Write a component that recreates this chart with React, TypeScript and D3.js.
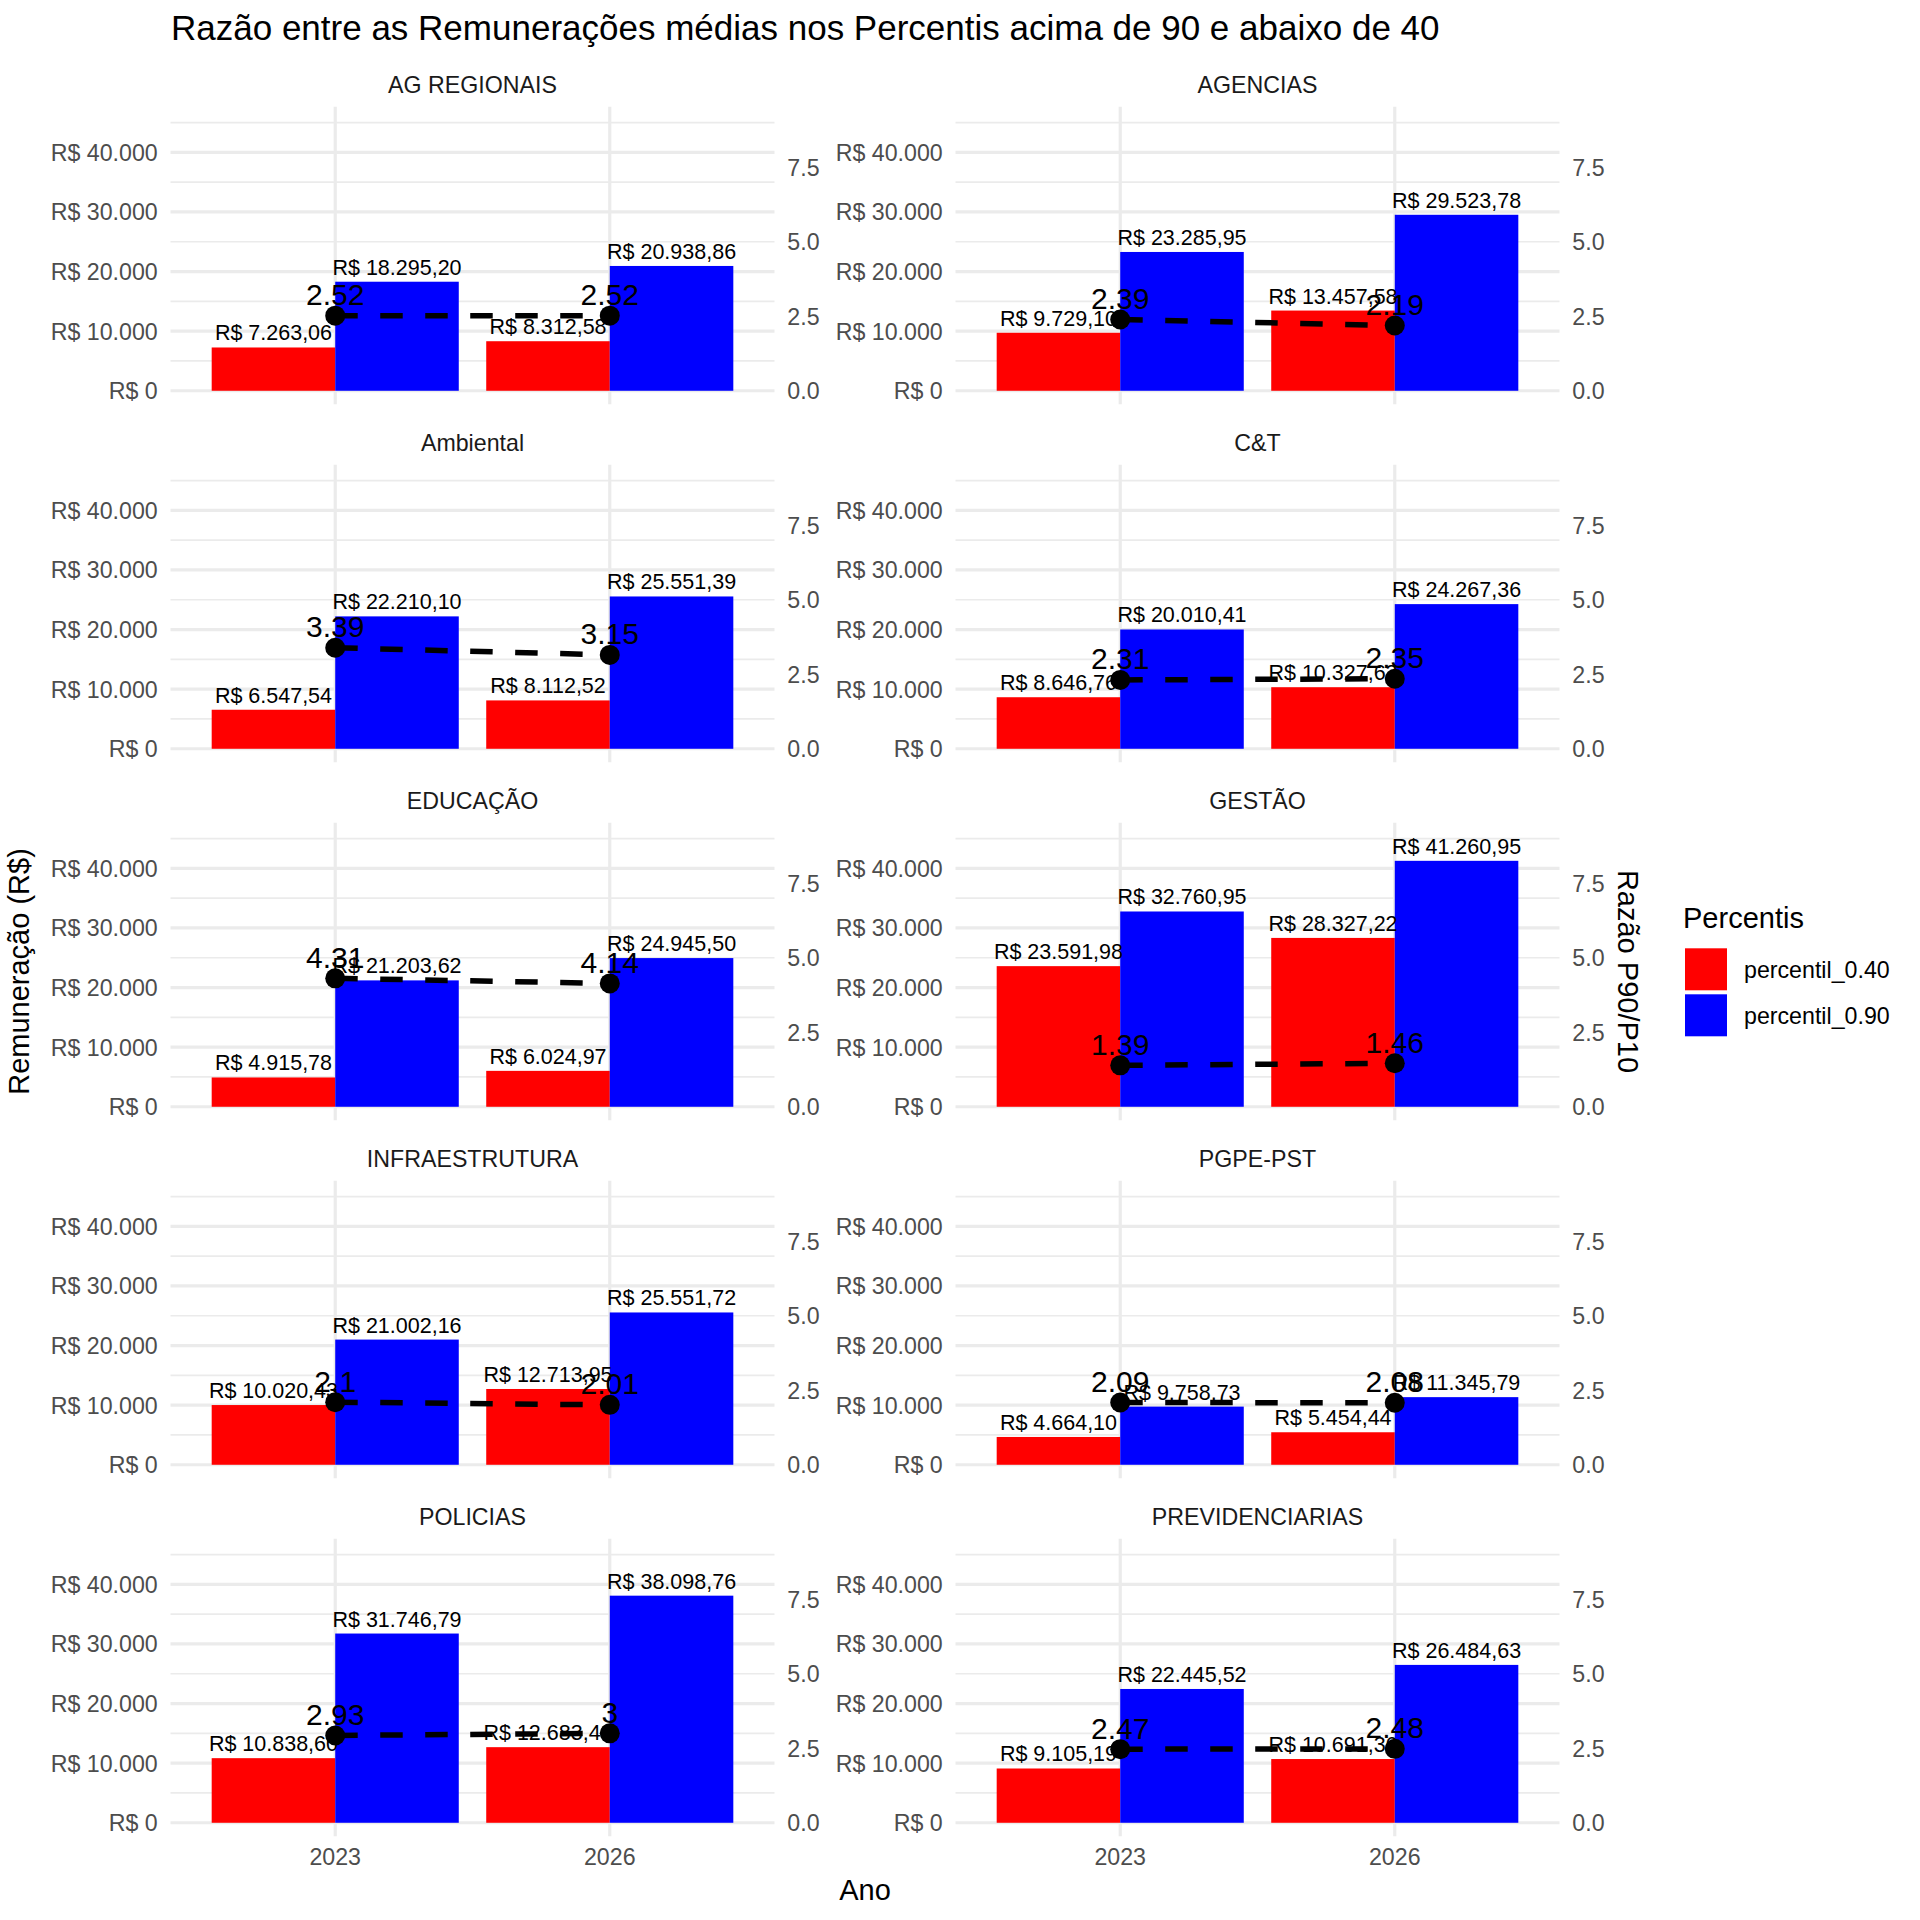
import React from 'react';
import * as d3 from 'd3';

// carreiras (facetas) e anos
const carreiras = [
  'AG REGIONAIS', 'AGENCIAS', 'Ambiental', 'C&T', 'EDUCAÇÃO',
  'GESTÃO', 'INFRAESTRUTURA', 'PGPE-PST', 'POLICIAS', 'PREVIDENCIARIAS',
];
const anos = ['2023', '2026'];

// remuneração média abaixo do percentil 40
const p40_2023 = [7263.06, 9729.10, 6547.54, 8646.76, 4915.78, 23591.98, 10020.43, 4664.10, 10838.60, 9105.19];
const p40_2026 = [8312.58, 13457.58, 8112.52, 10327.63, 6024.97, 28327.22, 12713.95, 5454.44, 12683.40, 10691.36];

// remuneração média acima do percentil 90
const p90_2023 = [18295.20, 23285.95, 22210.10, 20010.41, 21203.62, 32760.95, 21002.16, 9758.73, 31746.79, 22445.52];
const p90_2026 = [20938.86, 29523.78, 25551.39, 24267.36, 24945.50, 41260.95, 25551.72, 11345.79, 38098.76, 26484.63];

// razão P90/P10 (como aparece nos rótulos)
const razao_2023 = [2.52, 2.39, 3.39, 2.31, 4.31, 1.39, 2.1, 2.09, 2.93, 2.47];
const razao_2026 = [2.52, 2.19, 3.15, 2.35, 4.14, 1.46, 2.01, 2.08, 3, 2.48];

const series = ['percentil_0.40', 'percentil_0.90'];
const cores = ['#FF0000', '#0000FF'];

const fonte = '"Liberation Sans", Arial, Helvetica, sans-serif';
const fatorRazao = 5000;

const br = d3.formatLocale({ decimal: ',', thousands: '.', grouping: [3], currency: ['R$ ', ''] });
const fmtValor = br.format('$,.2f');
const fmtEixo = br.format('$,.0f');
const fmtRazao = d3.format('.1f');

export default function App() {
  const colX = [170.5, 955.5];
  const W = 604;
  const H = 297.6;
  const topo0 = 106.7;
  const passoLinha = 358;

  const x = d3.scalePoint<string>().domain(anos).range([0, W]).padding(0.6);
  const barW = x.step() * 0.45;

  const yMax = (d3.max([...p90_2023, ...p90_2026]) as number) * 1.1;
  const pad = yMax * 0.05;
  const y = d3.scaleLinear().domain([-pad, yMax + pad]).range([H, 0]);
  const yTicks = [0, 10000, 20000, 30000, 40000];
  const yMinor = [5000, 15000, 25000, 35000, 45000];
  const rTicks = [0, 2.5, 5, 7.5];
  const yR = (r: number) => y(r * fatorRazao);

  const dados = carreiras.map((nome, i) => ({
    nome,
    linhas: [
      { ano: anos[0], vals: [p40_2023[i], p90_2023[i]], razao: razao_2023[i] },
      { ano: anos[1], vals: [p40_2026[i], p90_2026[i]], razao: razao_2026[i] },
    ],
  }));

  const linha = d3.line<{ ano: string; razao: number }>()
    .x(d => x(d.ano) as number)
    .y(d => yR(d.razao));

  const ultimaLinha = Math.floor((carreiras.length - 1) / 2);
  const baseInferior = topo0 + ultimaLinha * passoLinha + H;

  return (
    <svg width={1920} height={1920} style={{ position: 'absolute', left: 0, top: 0, background: '#fff' }}
      fontFamily={fonte}>
      <rect width={1920} height={1920} fill="#fff" />
      <text x={171} y={40} fontSize={35} fill="#000">
        Razão entre as Remunerações médias nos Percentis acima de 90 e abaixo de 40
      </text>

      {dados.map((d, i) => {
        const col = i % 2;
        const lin = Math.floor(i / 2);
        const tx = colX[col];
        const ty = topo0 + lin * passoLinha;
        return (
          <g key={d.nome} transform={`translate(${tx},${ty})`}>
            <text x={W / 2} y={-14} textAnchor="middle" fontSize={23.2} fill="#1A1A1A">{d.nome}</text>

            {yMinor.map(v => (
              <line key={'m' + v} x1={0} x2={W} y1={y(v)} y2={y(v)} stroke="#EBEBEB" strokeWidth={1.7} />
            ))}
            {yTicks.map(v => (
              <line key={'M' + v} x1={0} x2={W} y1={y(v)} y2={y(v)} stroke="#EBEBEB" strokeWidth={3.2} />
            ))}
            {anos.map(a => (
              <line key={'v' + a} x1={x(a)} x2={x(a)} y1={0} y2={H} stroke="#EBEBEB" strokeWidth={3.2} />
            ))}

            {yTicks.map(v => (
              <text key={'yl' + v} x={-12.8} y={y(v)} dy="0.36em" textAnchor="end" fontSize={23.2} fill="#4D4D4D">
                {fmtEixo(v)}
              </text>
            ))}
            {rTicks.map(v => (
              <text key={'rl' + v} x={W + 12.8} y={yR(v)} dy="0.36em" textAnchor="start" fontSize={23.2} fill="#4D4D4D">
                {fmtRazao(v)}
              </text>
            ))}

            {d.linhas.map(l => l.vals.map((v, s) => {
              const cx = (x(l.ano) as number) + (s === 0 ? -barW : 0);
              return (
                <rect key={l.ano + s} x={cx} y={y(v)} width={barW} height={y(0) - y(v)} fill={cores[s]} />
              );
            }))}
            {d.linhas.map(l => l.vals.map((v, s) => {
              const cx = (x(l.ano) as number) + (s === 0 ? -barW / 2 : barW / 2);
              return (
                <text key={'t' + l.ano + s} x={cx} y={y(v) - 7} textAnchor="middle" fontSize={21.5} fill="#000">
                  {fmtValor(v)}
                </text>
              );
            }))}

            <path d={linha(d.linhas) as string} fill="none" stroke="#000" strokeWidth={5.5}
              strokeDasharray="22.5 22.5" />
            {d.linhas.map(l => (
              <circle key={'c' + l.ano} cx={x(l.ano)} cy={yR(l.razao)} r={10} fill="#000" />
            ))}
            {d.linhas.map(l => (
              <text key={'r' + l.ano} x={x(l.ano)} y={yR(l.razao) - 10.5} textAnchor="middle" fontSize={30} fill="#000">
                {String(l.razao)}
              </text>
            ))}

            {lin === ultimaLinha && anos.map(a => (
              <text key={'xl' + a} x={x(a)} y={H + 29} textAnchor="middle" fontSize={23.2} fill="#4D4D4D">{a}</text>
            ))}
          </g>
        );
      })}

      <text x={(colX[0] + colX[1] + W) / 2} y={1900} textAnchor="middle" fontSize={29} fill="#000">Ano</text>
      <text transform={`translate(29,${(topo0 + baseInferior) / 2}) rotate(-90)`} textAnchor="middle"
        fontSize={29} fill="#000">Remuneração (R$)</text>
      <text transform={`translate(1618,${(topo0 + baseInferior) / 2}) rotate(90)`} textAnchor="middle"
        fontSize={29} fill="#000">Razão P90/P10</text>

      <g transform="translate(1683,0)">
        <text x={0} y={928} fontSize={29} fill="#000">Percentis</text>
        {series.map((s, k) => (
          <g key={s} transform={`translate(0,${946.5 + k * 46})`}>
            <rect x={2} y={1.8} width={42} height={42} fill={cores[k]} />
            <text x={61} y={23} dy="0.36em" fontSize={23.2} fill="#000">{s}</text>
          </g>
        ))}
      </g>
    </svg>
  );
}
